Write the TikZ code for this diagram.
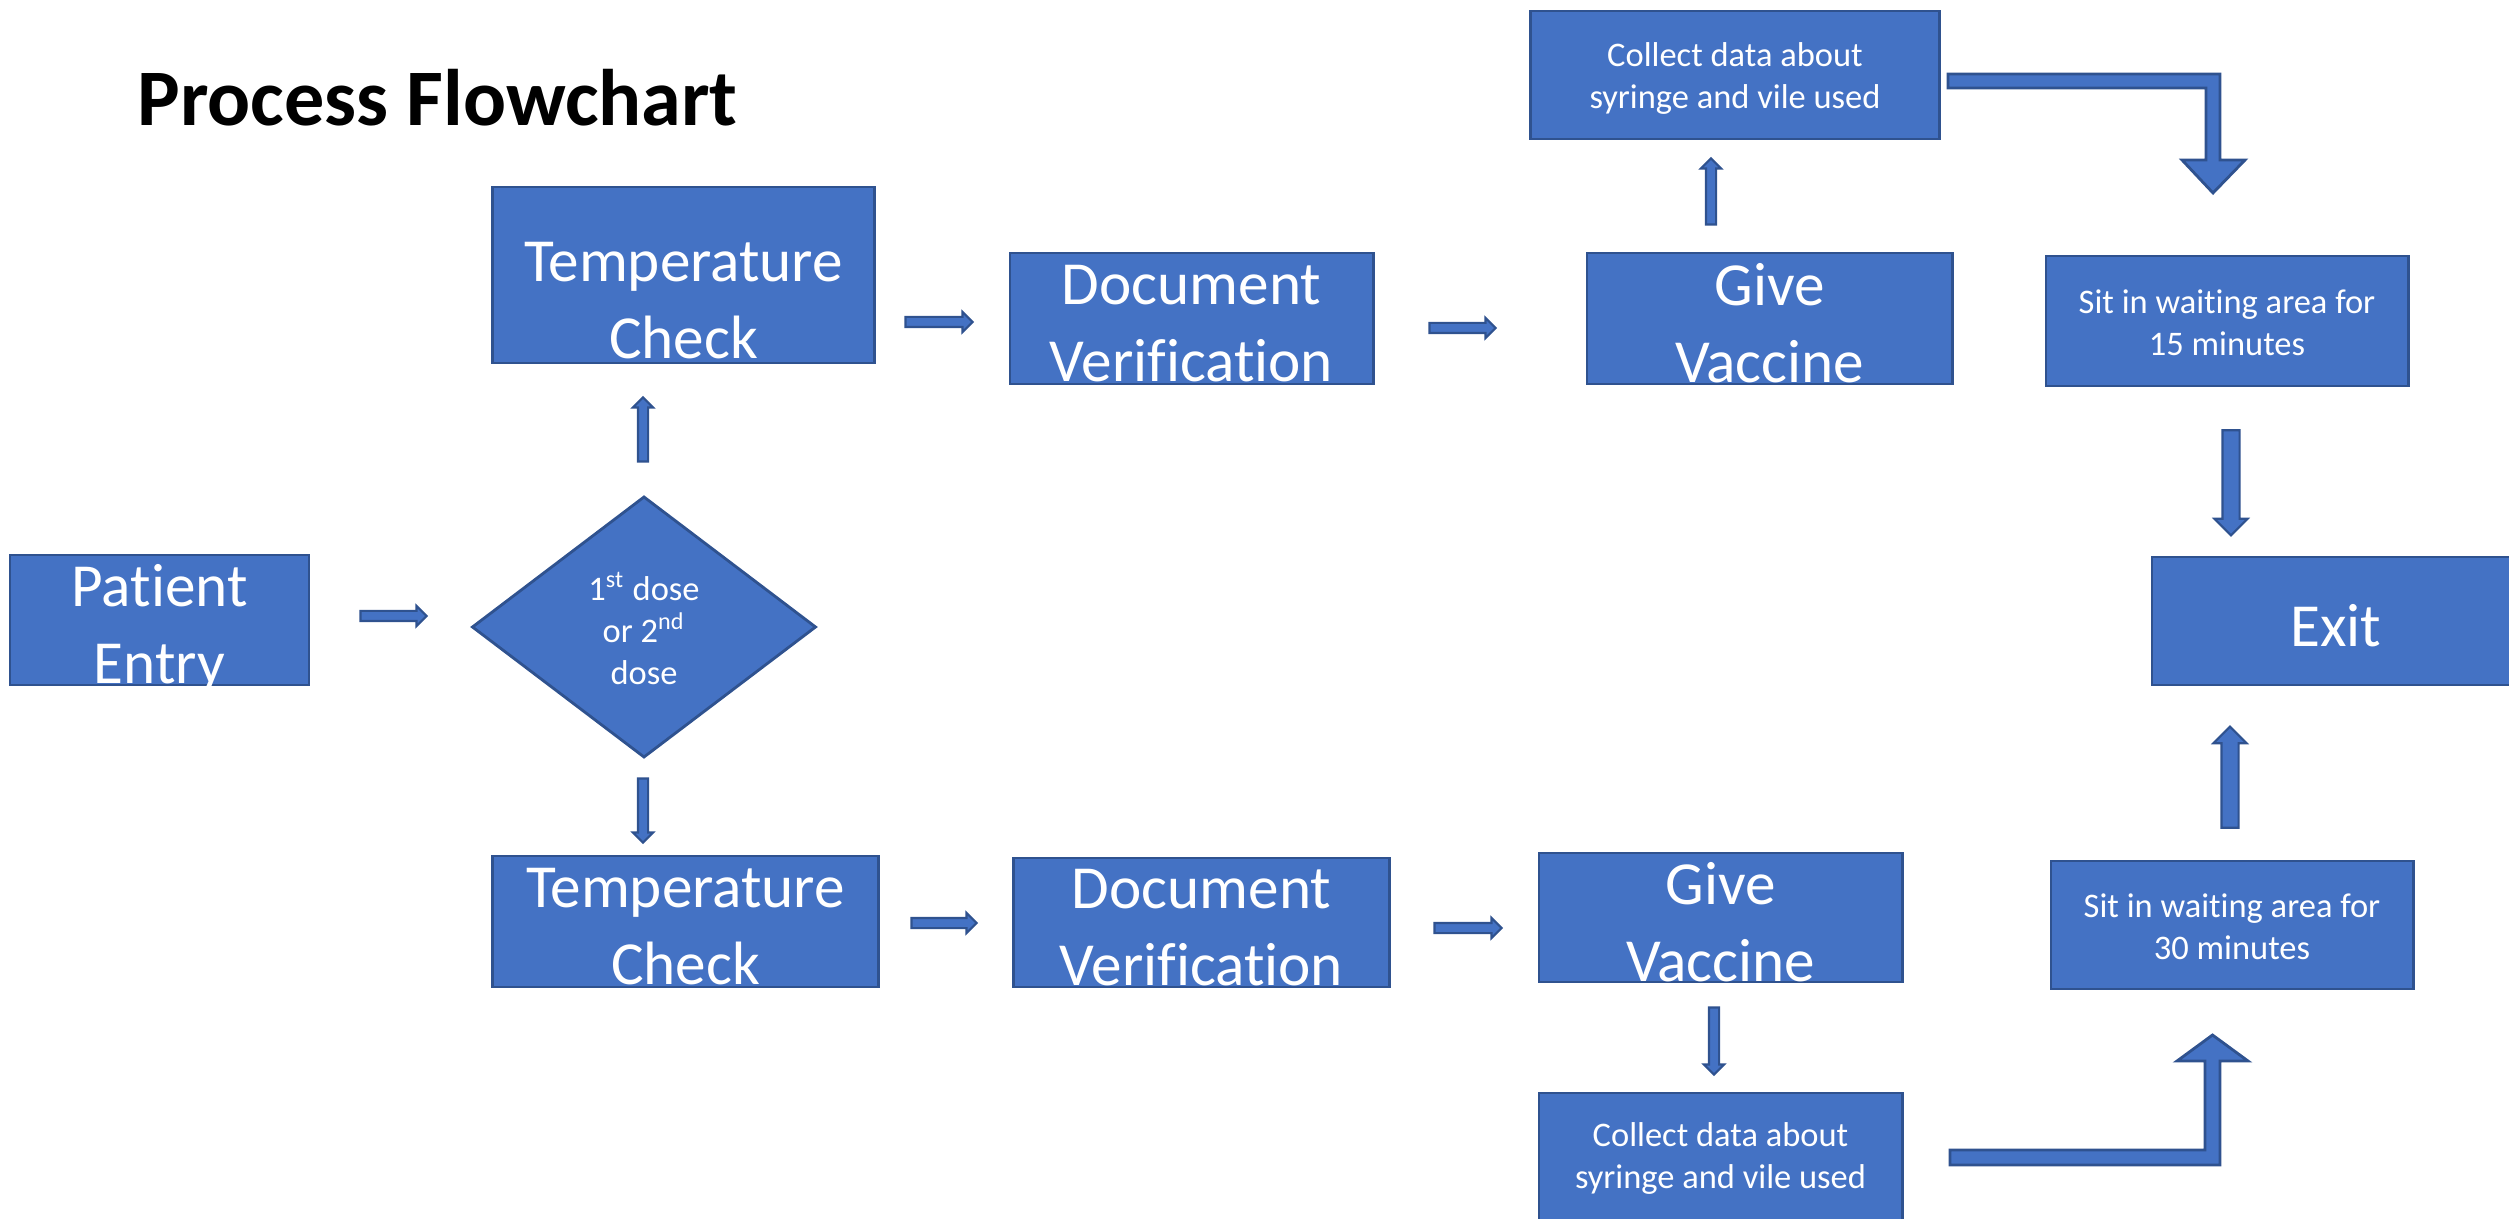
\documentclass[tikz,border=0pt]{standalone}
\usepackage{fontspec}
\setmainfont{Carlito}[Ligatures={NoCommon}]
\usetikzlibrary{shapes.geometric,shapes.arrows}
\definecolor{flowblue}{HTML}{4472C4}
\definecolor{flowedge}{HTML}{2F528F}

\begin{document}
\begin{tikzpicture}[x=0.01cm, y=-0.01cm,
    box/.style={rectangle, fill=flowblue, draw=flowedge, line width=0.8pt, inner sep=0pt},
    bigtext/.style={text=white, align=center, yshift=-0.05cm, font=\fontsize{17.4}{21.9}\selectfont},
    smalltext/.style={text=white, align=center, yshift=-0.015cm, font=\fontsize{9.8}{11.9}\selectfont},
    thinarrow/.style={single arrow, fill=flowblue, draw=flowedge, line width=0.6pt,
        inner xsep=0pt, inner ysep=0.04cm, single arrow head extend=0.05cm},
    widearrow/.style={thinarrow, inner ysep=0.075cm, single arrow head extend=0.08cm}]
    \useasboundingbox (0,0) rectangle (2509,1219);

    % Title
    \node[anchor=base west, font=\fontsize{22.8}{27}\selectfont\bfseries] (title) at (125,126) {Process Flowchart};

    % Entry and decision
    \node[box, minimum width=2.99cm, minimum height=1.30cm, label={[bigtext, yshift=-0.04cm]center:{Patient\\Entry}}] (entry) at (159.5,620) {};
    \node[diamond, fill=flowblue, draw=flowedge, line width=0.8pt, inner sep=0pt, minimum width=3.44cm, minimum height=2.61cm,
        label={[smalltext]center:{1\textsuperscript{st} dose\\or 2\textsuperscript{nd}\\dose}}] (dose) at (644,627) {};

    % First dose row
    \node[box, minimum width=3.81cm, minimum height=1.76cm, label={[bigtext, yshift=-0.21cm]center:{Temperature\\Check}}] (temp1) at (683.5,275) {};
    \node[box, minimum width=3.63cm, minimum height=1.31cm, label={[bigtext]center:{Document\\Verification}}] (doc1) at (1191.5,318.5) {};
    \node[box, minimum width=3.65cm, minimum height=1.31cm, label={[bigtext]center:{Give\\Vaccine}}] (give1) at (1769.5,318.5) {};
    \node[box, minimum width=4.08cm, minimum height=1.28cm, label={[smalltext, yshift=-0.02cm]center:{Collect data about\\syringe and vile used}}] (coll1) at (1735,75) {};
    \node[box, minimum width=3.62cm, minimum height=1.30cm, label={[smalltext]center:{Sit in waiting area for\\15 minutes}}] (sit15) at (2227,321) {};

    % Exit
    \node[box, minimum width=3.68cm, minimum height=1.28cm, label={[bigtext]center:Exit}] (exit) at (2336,621) {};

    % Second dose row
    \node[box, minimum width=3.85cm, minimum height=1.31cm, label={[bigtext]center:{Temperature\\Check}}] (temp2) at (685.5,921.5) {};
    \node[box, minimum width=3.75cm, minimum height=1.29cm, label={[bigtext]center:{Document\\Verification}}] (doc2) at (1201.5,922.5) {};
    \node[box, minimum width=3.63cm, minimum height=1.29cm, label={[bigtext]center:{Give\\Vaccine}}] (give2) at (1720.5,917.5) {};
    \node[box, minimum width=3.63cm, minimum height=1.28cm, label={[smalltext]center:{Collect data about\\syringe and vile used}}] (coll2) at (1720.5,1157) {};
    \node[box, minimum width=3.62cm, minimum height=1.28cm, label={[smalltext]center:{Sit in waiting area for\\30 minutes}}] (sit30) at (2232,925) {};

    % Small arrows
    \node[thinarrow, minimum height=0.66cm] (toDose) at (391,616) {};
    \node[thinarrow, minimum height=0.64cm, rotate=90] (toTempA) at (643,432) {};
    \node[thinarrow, minimum height=0.64cm, rotate=-90] (toTempB) at (643,808) {};
    \node[thinarrow, minimum height=0.67cm] (toDocA) at (936.5,322) {};
    \node[thinarrow, minimum height=0.66cm] (toGiveA) at (1460,328) {};
    \node[thinarrow, minimum height=0.66cm, rotate=90] (toCollA) at (1711,194) {};
    \node[thinarrow, minimum height=0.65cm] (toDocB) at (941.5,923) {};
    \node[thinarrow, minimum height=0.67cm] (toGiveB) at (1465.5,928) {};
    \node[thinarrow, minimum height=0.67cm, rotate=-90] (toCollB) at (1714,1038.5) {};

    % Wide arrows into exit
    \node[widearrow, minimum height=1.05cm, rotate=-90] (fromSitA) at (2231,478.5) {};
    \node[widearrow, minimum height=1.01cm, rotate=90] (fromSitB) at (2230,781.5) {};

    % Bent arrows
    \filldraw[fill=flowblue, draw=flowedge, line width=0.8pt]
        (1948,74) -- (2220,74) -- (2220,160) -- (2245,160) -- (2213,193) -- (2182,160)
        -- (2206,160) -- (2206,88) -- (1948,88) -- cycle;
    \filldraw[fill=flowblue, draw=flowedge, line width=0.8pt]
        (1950,1165) -- (2220,1165) -- (2220,1061) -- (2248,1061) -- (2212.5,1035) -- (2177,1061)
        -- (2205,1061) -- (2205,1150) -- (1950,1150) -- cycle;
\end{tikzpicture}
\end{document}
